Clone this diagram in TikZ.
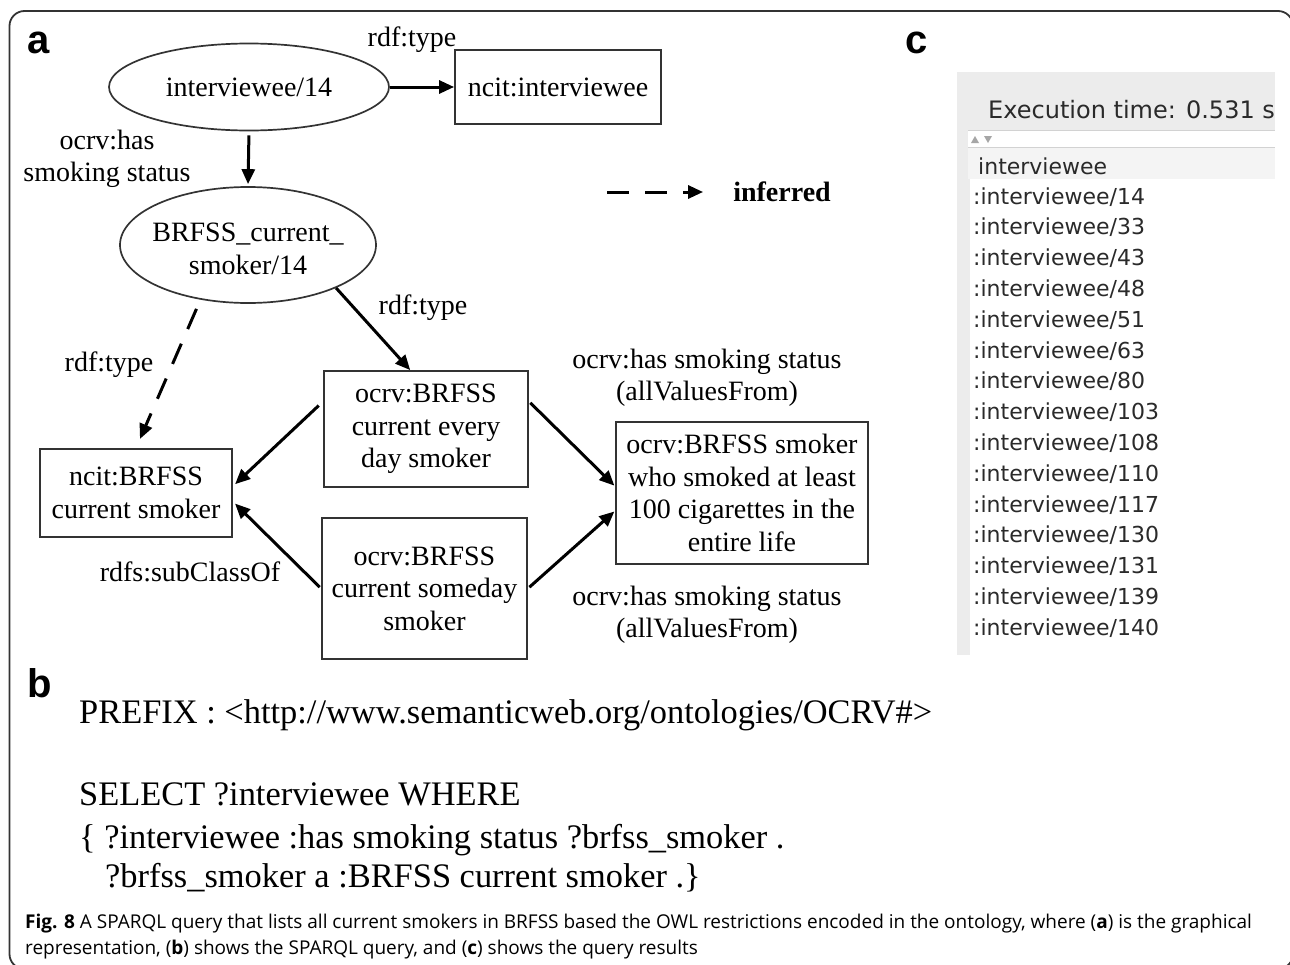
\documentclass[tikz,border=0pt]{standalone}
\usepackage{fontspec}
\setmainfont{Liberation Serif}
\newfontfamily\panelsans{DejaVu Sans}
\newfontfamily\tagsans{Liberation Sans}
\newfontfamily\capsans{Open Sans}
\usetikzlibrary{arrows.meta,shapes.geometric}

\definecolor{edgegray}{HTML}{333333}
\definecolor{panelgray}{HTML}{ECECEC}
\definecolor{headgray}{HTML}{F4F4F4}
\definecolor{sepgray}{HTML}{D2D2D2}
\definecolor{listtext}{HTML}{2A2A2A}

\tikzset{
  graphfont/.style={font=\fontsize{28}{32.5}\selectfont},
  lbl/.style={graphfont, inner sep=0pt, align=center},
  clsbox/.style={graphfont, draw=edgegray, line width=1.8pt, align=center, inner sep=0pt},
  instnode/.style={ellipse, draw=edgegray, line width=1.7pt, inner sep=0pt},
  arr/.style={line width=3pt, -{Triangle[length=15pt,width=13pt]}},
  inferredarr/.style={arr, dash pattern=on 22pt off 16pt},
  paneltag/.style={font=\tagsans\bfseries\fontsize{40}{40}\selectfont, inner sep=0pt, anchor=base west},
  sparql/.style={font=\fontsize{34.4}{38}\selectfont, inner sep=0pt, anchor=base west},
  captext/.style={font=\capsans\fontsize{19}{22}\selectfont, inner sep=0pt, anchor=base west},
  rowtext/.style={font=\panelsans\fontsize{22}{26}\selectfont, text=listtext, inner sep=0pt, anchor=base west},
}

\begin{document}
\begin{tikzpicture}[x=1pt, y=-1pt]
\useasboundingbox (0,0) rectangle (1290,964);

% outer frame with rounded corners, running past the page on the right and bottom
\begin{scope}
  \clip (0,0) rectangle (1290,964);
  \draw[edgegray, line width=1.8pt, rounded corners=15pt] (9.5,11) rectangle (1293,969);
\end{scope}

% panel tags
\node[paneltag] (tagA) at (27,53) {a};
\node[paneltag] (tagB) at (27,697) {b};
\node[paneltag] (tagC) at (905,53) {c};

% ---------- (a) graph ----------
\node[instnode, minimum width=280pt, minimum height=87pt,
      label={[lbl]center:interviewee/14}] (ind) at (249,87) {};
\node[clsbox, minimum width=206pt, minimum height=74pt] (ncitI) at (558,87) {ncit:interviewee};
\node[instnode, minimum width=256pt, minimum height=116pt,
      label={[lbl, yshift=-4pt]center:BRFSS\_current\_\\smoker/14}] (smk) at (248,245) {};
\node[clsbox, minimum width=192pt, minimum height=88pt] (ncitS) at (136,493) {ncit:BRFSS\\current smoker};
\node[clsbox, minimum width=204pt, minimum height=116pt] (every) at (426,429) {ocrv:BRFSS\\current every\\day smoker};
\node[clsbox, minimum width=205pt, minimum height=141pt] (some) at (424.5,588.5) {ocrv:BRFSS\\current someday\\smoker};
\node[clsbox, minimum width=252pt, minimum height=142pt] (least) at (742,493) {ocrv:BRFSS smoker\\who smoked at least\\100 cigarettes in the\\entire life};

% edge labels
\node[lbl] (lType1) at (412,40) {rdf:type};
\node[lbl] (lHas) at (107,159) {ocrv:has\\smoking status};
\node[lbl] (lType2) at (423,308) {rdf:type};
\node[lbl] (lType3) at (109,365) {rdf:type};
\node[lbl] (lSub) at (190,572) {rdfs:subClassOf};
\node[lbl] (lAll1) at (707,378) {ocrv:has smoking status\\(allValuesFrom)};
\node[lbl] (lAll2) at (707,615) {ocrv:has smoking status\\(allValuesFrom)};

% legend
\coordinate (legStart) at (607,192);
\node[graphfont, font=\bfseries\fontsize{28}{32.5}\selectfont, inner sep=0pt] (legInf) at (782,192) {inferred};
\draw[inferredarr, shorten >=30pt] (legStart) -- (legInf.west);

% connectors
\draw[arr] (ind.east) -- (ncitI.west);
\draw[arr, shorten <=4pt, shorten >=2pt] (ind.south) -- (smk.north);
\draw[arr] (smk.-26) -- (every.105);
\draw[inferredarr, shorten <=10pt, shorten >=10pt] (smk.229) -- (ncitS.north);
\draw[arr, shorten <=6pt, shorten >=3pt] (every.165) -- (ncitS.4);
\draw[arr, shorten <=2pt, shorten >=3pt] (some.west) -- (ncitS.-5);
\draw[arr, shorten <=2pt, shorten >=1pt] (every.15) -- (least.177);
\draw[arr, shorten <=2pt, shorten >=1pt] (some.east) -- (least.188);

% ---------- (b) SPARQL query ----------
\node[sparql] (qPrefix) at (79,723) {PREFIX : <http://www.semanticweb.org/ontologies/OCRV\#>};
\node[sparql] (qSelect) at (79,805) {SELECT ?interviewee WHERE};
\node[sparql] (qWhere1) at (79,848) {\{ ?interviewee :has smoking status ?brfss\_smoker .};
\node[sparql] (qWhere2) at (105,887) {?brfss\_smoker a :BRFSS current smoker .\}};

% ---------- (c) result table ----------
\fill[panelgray] (957,72) rectangle (1275,655);
\fill[white] (968,130) rectangle (1275,147);
\fill[headgray] (968,147) rectangle (1275,179);
\fill[white] (970,179) rectangle (1275,655);
\draw[sepgray, line width=0.8pt] (968,130) -- (1275,130);
\draw[sepgray, line width=0.8pt] (968,147) -- (1275,147);
\fill[gray!70] (971,143) -- (979,143) -- (975,136) -- cycle;
\fill[gray!70] (984,136) -- (992,136) -- (988,143) -- cycle;
\node[font=\panelsans\fontsize{24}{28}\selectfont, text=listtext, inner sep=0pt, anchor=base west] (execTime) at (988,118) {Execution time: 0.531 s};
\node[rowtext] (colHead) at (978,174) {interviewee};
\foreach \id [count=\k from 0] in {14,33,43,48,51,63,80,103,108,110,117,130,131,139,140} {
  \node[rowtext] (row\id) at (973,{204+30.8*\k}) {:interviewee/\id};
}

% ---------- caption ----------
\node[captext] (cap1) at (25,928) {\textbf{Fig. 8} A SPARQL query that lists all current smokers in BRFSS based the OWL restrictions encoded in the ontology, where (\textbf{a}) is the graphical};
\node[captext] (cap2) at (25,954) {representation, (\textbf{b}) shows the SPARQL query, and (\textbf{c}) shows the query results};
\end{tikzpicture}
\end{document}
